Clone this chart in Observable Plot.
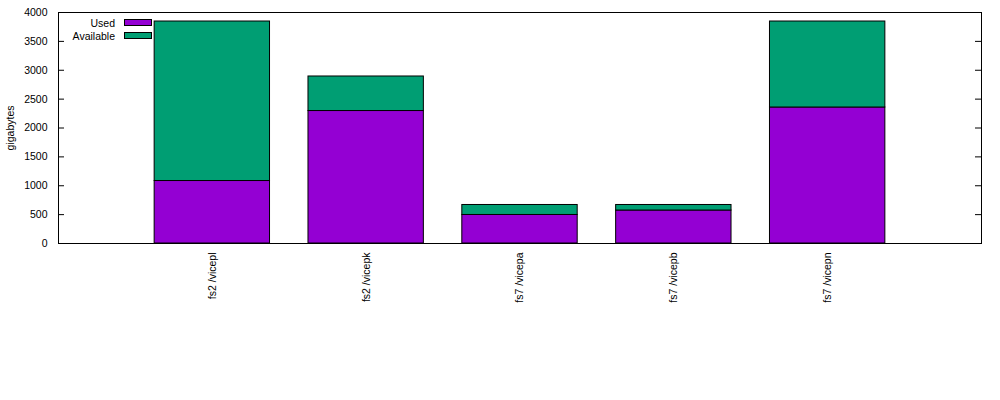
<!DOCTYPE html>
<html>
<head>
<meta charset="utf-8">
<script src="https://cdn.jsdelivr.net/npm/d3@7"></script>
<script src="https://cdn.jsdelivr.net/npm/@observablehq/plot@0.6"></script>
<style>
  body { margin: 0; background: #fff; }
  #wrap { position: relative; width: 1000px; height: 400px; font-family: "Liberation Sans", Arial, sans-serif; font-size: 10.5px; }
  #wrap svg { display: block; }
  .lg-text { position: absolute; left: 0; width: 115px; text-align: right; line-height: 12px; color: #000; }
  .lg-sw { position: absolute; left: 124px; width: 26px; height: 5px; border: 1px solid #000; }
</style>
</head>
<body>
<div id="wrap"></div>
<script>
const categories = ["fs2 /vicepl", "fs2 /vicepk", "fs7 /vicepa", "fs7 /vicepb", "fs7 /vicepn"];
const used = [1082, 2294, 494, 571, 2355];
const available = [2762, 598, 173, 96, 1489];
const series = ["Used", "Available"];
const colors = ["#9400d3", "#009e73"];
const yTicks = [0, 500, 1000, 1500, 2000, 2500, 3000, 3500, 4000];

const rows = [];
categories.forEach((c, i) => {
  rows.push({i, series: "Used", y1: 0, y2: used[i]});
  rows.push({i, series: "Available", y1: used[i], y2: used[i] + available[i]});
});

const W = 1000, ML = 58, MR = 19;
const frameW = W - ML - MR;

const chart = Plot.plot({
  width: W,
  height: 400,
  marginLeft: ML,
  marginRight: MR,
  marginTop: 12,
  marginBottom: 157,
  style: {fontFamily: "'Liberation Sans', Arial, sans-serif", fontSize: "10.5px", background: "#fff", overflow: "visible"},
  x: {type: "linear", domain: [-1, categories.length]},
  y: {domain: [0, 4000]},
  color: {domain: series, range: colors},
  marks: [
    Plot.rect(rows, {
      x1: d => d.i - 0.375,
      x2: d => d.i + 0.375,
      y1: "y1",
      y2: "y2",
      fill: "series",
      stroke: "black",
      strokeWidth: 1
    }),
    Plot.tickY(yTicks, {y: d => d, insetRight: frameW - 6, stroke: "black"}),
    Plot.tickY(yTicks, {y: d => d, insetLeft: frameW - 6, stroke: "black"}),
    Plot.axisY({ticks: yTicks, tickFormat: d3.format("d"), tickSize: 0, tickPadding: 11, label: "gigabytes", labelAnchor: "center", labelOffset: 52, labelArrow: "none", fill: "black"}),
    Plot.axisX({ticks: d3.range(categories.length), tickFormat: i => categories[i], tickSize: 0, tickPadding: 9, tickRotate: -90, label: null, fill: "black"}),
    Plot.frame({stroke: "black", strokeWidth: 1})
  ]
});

const wrap = document.getElementById("wrap");
wrap.appendChild(chart);

// legend (inside plot area, top-left, gnuplot style)
series.forEach((s, k) => {
  const t = document.createElement("div");
  t.className = "lg-text";
  t.style.top = (17 + k * 13) + "px";
  t.textContent = s;
  wrap.appendChild(t);
  const sw = document.createElement("div");
  sw.className = "lg-sw";
  sw.style.top = (19 + k * 13) + "px";
  sw.style.background = colors[k];
  wrap.appendChild(sw);
});
</script>
</body>
</html>
